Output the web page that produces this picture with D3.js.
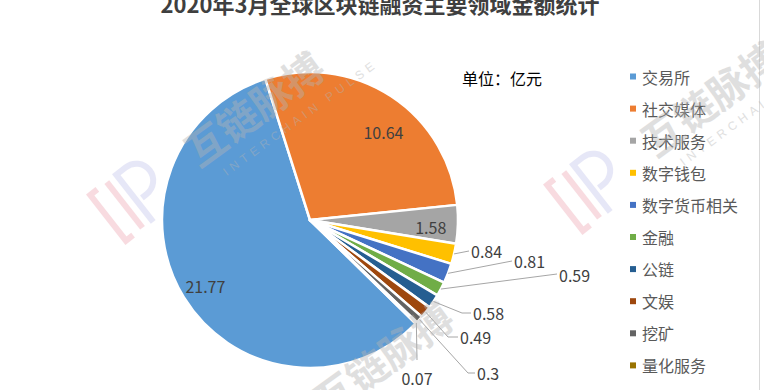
<!DOCTYPE html>
<html><head><meta charset="utf-8">
<script src="https://cdn.jsdelivr.net/npm/d3@7/dist/d3.min.js"></script>
<style>
html,body{margin:0;padding:0;background:#fff;}
svg{display:block;font-family:"Noto Sans CJK SC","Microsoft YaHei",sans-serif;}
</style></head>
<body>
<svg id="chart" width="764" height="390"></svg>
<script>
const title = "2020年3月全球区块链融资主要领域金额统计";
const unitLabel = "单位：亿元";
const categories = ["交易所","社交媒体","技术服务","数字钱包","数字货币相关","金融","公链","文娱","挖矿","量化服务"];
const values = [21.77,10.64,1.58,0.84,0.81,0.59,0.58,0.49,0.3,0.07];
const colors = ["#5B9BD5","#ED7D31","#A5A5A5","#FFC000","#4472C4","#70AD47","#255E91","#9E480E","#636363","#997300"];

// layout (not data): inside-label nudges and outside label anchor points
const insideNudge = {0:[0,2],1:[6,15],2:[-2,3]};
const outsideLayout = {
  3:{pts:[[469,251]], tx:471, ty:251, anchor:"start"},
  4:{pts:[[512,261]], tx:514, ty:261, anchor:"start"},
  5:{pts:[[557,274]], tx:559, ty:275, anchor:"start"},
  6:{pts:[[462,313],[471,313]], tx:473, ty:313, anchor:"start"},
  7:{pts:[[448,337],[458,337]], tx:460, ty:337, anchor:"start"},
  8:{pts:[[468,373],[475,373]], tx:477, ty:373, anchor:"start"},
  9:{pts:[[417,360]], tx:417, ty:378, anchor:"middle"}
};

const svg = d3.select("#chart");
const cx = 310, cy = 220, R = 148;

svg.append("line").attr("x1",759.5).attr("x2",759.5).attr("y1",0).attr("y2",390)
  .attr("stroke","#d9d9d9").attr("stroke-width",1);

svg.append("text").attr("x",380).attr("y",13).attr("text-anchor","middle")
  .attr("font-size",22).attr("font-weight","bold").attr("fill","#3f3f3f").text(title);

svg.append("text").attr("x",462).attr("y",78).attr("dominant-baseline","central")
  .attr("font-size",16).attr("fill","#000").text(unitLabel);

const pie = d3.pie().sort(null).value(d=>d)
  .startAngle(134.4*Math.PI/180).endAngle(134.4*Math.PI/180 + 2*Math.PI);
const arcs = pie(values);
const arc = d3.arc().innerRadius(0).outerRadius(R);
const labelArc = d3.arc().innerRadius(R*0.83).outerRadius(R*0.83);
const edgeArc = d3.arc().innerRadius(R).outerRadius(R);

const g = svg.append("g").attr("transform",`translate(${cx},${cy})`);
g.selectAll("path.slice").data(arcs).join("path").attr("class","slice")
  .attr("d",arc).attr("fill",(d,i)=>colors[i])
  .attr("stroke","#fff").attr("stroke-width",2.5).attr("stroke-linejoin","round");

g.selectAll("text.inlab").data(arcs.filter((d,i)=>i<3)).join("text").attr("class","inlab")
  .attr("x",(d)=>labelArc.centroid(d)[0]+insideNudge[d.index][0])
  .attr("y",(d)=>labelArc.centroid(d)[1]+insideNudge[d.index][1])
  .attr("text-anchor","middle").attr("dominant-baseline","central")
  .attr("font-size",16).attr("fill","#404040").text(d=>d.data);

arcs.forEach((d,i)=>{
  const L = outsideLayout[i]; if(!L) return;
  const p0 = edgeArc.centroid(d);
  const pts = [[cx+p0[0],cy+p0[1]]].concat(L.pts);
  svg.append("path").attr("d",d3.line()(pts)).attr("fill","none")
    .attr("stroke","#a6a6a6").attr("stroke-width",1);
  svg.append("text").attr("x",L.tx).attr("y",L.ty).attr("text-anchor",L.anchor)
    .attr("dominant-baseline","central").attr("font-size",16).attr("fill","#404040")
    .text(values[i]);
});

const lg = svg.append("g");
categories.forEach((c,i)=>{
  const y = 76.5 + i*32.1;
  lg.append("rect").attr("x",630).attr("y",y-3).attr("width",6).attr("height",6).attr("fill",colors[i]);
  lg.append("text").attr("x",642).attr("y",y).attr("dominant-baseline","central")
    .attr("font-size",16).attr("fill","#595959").text(c);
});

// faint watermarks
function watermark(ox, oy, withSub){
  const w = svg.append("g").attr("transform",`translate(${ox},${oy})`).attr("pointer-events","none");
  const logo = w.append("g").attr("transform","translate(-57,50) rotate(-38)").attr("opacity",0.5);
  logo.append("path").attr("d","M-18,-30 h-9 v58 h9").attr("fill","none").attr("stroke","#f2b9c2").attr("stroke-width",6);
  logo.append("path").attr("d","M-6,-30 v58").attr("fill","none").attr("stroke","#f2b9c2").attr("stroke-width",6);
  logo.append("path").attr("d","M6,30 v-60 h12 a17,17 0 0 1 0,34 h-6").attr("fill","none").attr("stroke","#cfd0f0").attr("stroke-width",6);
  const t = w.append("g").attr("transform","rotate(-36)").attr("fill","#b4b4b4").attr("opacity",0.42);
  t.append("text").attr("x",0).attr("y",20).attr("font-size",40).attr("font-weight","bold").text("互链脉搏");
  if(withSub) t.append("text").attr("x",18).attr("y",43).attr("font-size",12).attr("letter-spacing",4.5)
    .attr("font-family","Liberation Sans, Arial, sans-serif").text("INTERCHAIN PULSE");
}
watermark(187,152,true);
watermark(644,142,true);
watermark(316,402,false);
</script>
</body></html>
